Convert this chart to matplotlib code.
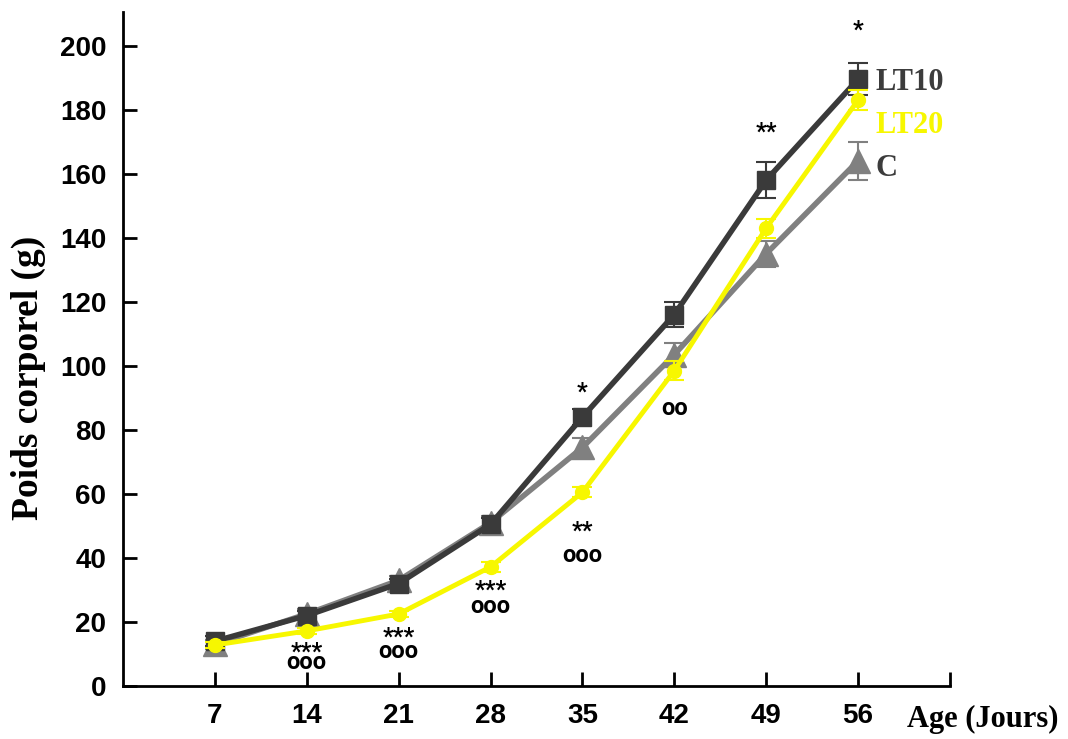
import matplotlib.pyplot as plt
import numpy as np
from matplotlib.font_manager import FontProperties
from matplotlib.textpath import TextPath

# age in days
days = [7, 14, 21, 28, 35, 42, 49, 56]

# body weight (g), mean and error per group
lt10 = [14, 22, 32, 50.5, 84, 116, 158, 189.5]
lt10_err = [1.5, 1.5, 1.5, 2, 2.5, 4, 5.5, 5]
c = [13, 22.5, 33, 51, 74.5, 103.5, 135, 164]
c_err = [1.5, 1.5, 1.5, 2, 3, 3.5, 4, 6]
lt20 = [12.8, 17.2, 22.5, 37.2, 60.5, 98.5, 143, 183]
lt20_err = [1, 1, 1, 1.5, 1.5, 3, 3, 3]

# significance marks: day, stars, stars height, circles, circles height
marks = [
    (35, '*', 93.4, '', None),
    (49, '**', 174.7, '', None),
    (56, '*', 206.6, '', None),
    (14, '***', 12.2, 'ooo', 7.2),
    (21, '***', 16.9, 'ooo', 10.6),
    (28, '***', 31.6, 'ooo', 24.7),
    (35, '**', 49.7, 'ooo', 40.6),
    (42, '', None, 'oo', 86.6),
]

dark = '#3a3a3a'
grey = '#808080'
yellow = '#f7f700'

fig = plt.figure(figsize=(10.68, 7.39), dpi=100)
ax = fig.add_axes([0.1152, 0.0717, 0.7743, 0.9121])

ax.errorbar(days, c, yerr=c_err, color=grey, lw=4, marker='^', ms=17,
            capsize=7, elinewidth=1.5, capthick=1.5, zorder=2)
ax.errorbar(days, lt10, yerr=lt10_err, color=dark, lw=4, marker='s', ms=13,
            capsize=7, elinewidth=1.5, capthick=1.5, zorder=3)
ax.errorbar(days, lt20, yerr=lt20_err, color=yellow, lw=3.5, marker='o', ms=10,
            capsize=7, elinewidth=1.5, capthick=1.5, zorder=4)

ax.set_xlim(0, 63)
ax.set_ylim(0, 210.5)

# star / circle annotations: place glyph centres at the given heights,
# stacking both rows in one text by tuning the line spacing
msize = 17
mfamily = 'Roboto'
fp = FontProperties(family=mfamily, weight='bold')
em = msize * fig.dpi / 72


def glyph_mid(s):
    ext = TextPath((0, 0), s, size=em, prop=fp).get_extents()
    return (ext.y0 + ext.y1) / 2


lp = TextPath((0, 0), 'lp', size=em, prop=fp).get_extents()
px_unit = ax.transData.transform((0, 1))[1] - ax.transData.transform((0, 0))[1]
star_mid = glyph_mid('*')
o_mid = glyph_mid('o')

for d, stars, ys, circles, yo in marks:
    ls = 1.2
    if stars and circles:
        step = (ys - yo) * px_unit - star_mid + o_mid
        ls = (step + lp.y0) / lp.y1
        # baseline alignment follows the last line here
        txt, yb = stars + '\n' + circles, yo - o_mid / px_unit
    elif stars:
        txt, yb = stars, ys - star_mid / px_unit
    else:
        txt, yb = circles, yo - o_mid / px_unit
    ax.text(d, yb, txt, ha='center', va='baseline', linespacing=ls,
            fontsize=msize, fontweight='bold', family=mfamily,
            color='black')

serif = dict(family='Liberation Serif', fontweight='bold')
ax.text(57.3, lt10[-1] - 1, 'LT10', color='#3c3c3c', fontsize=22,
        va='center', ha='left', **serif)
ax.text(57.3, 175, 'LT20', color=yellow, fontsize=22,
        va='center', ha='left', **serif)
ax.text(57.3, 161.5, 'C', color='#3c3c3c', fontsize=22,
        va='center', ha='left', **serif)

ax.set_xticks(days + [63])
ax.set_xticklabels([str(d) for d in days] + [''])
ax.set_yticks(np.arange(0, 201, 20))

for s in ['top', 'right']:
    ax.spines[s].set_visible(False)
for s in ['left', 'bottom']:
    ax.spines[s].set_linewidth(2)

ax.tick_params(direction='in', length=10, width=2, pad=12)
for lab in ax.get_xticklabels() + ax.get_yticklabels():
    lab.set_family('Liberation Sans')
    lab.set_fontweight('bold')
    lab.set_fontsize(20)

fig.text(28 / 1068, 1 - 378 / 739, 'Poids corporel (g)', rotation=90,
         ha='center', va='center', fontsize=27, **serif)
fig.text(0.9915, 0.027, 'Age (Jours)', ha='right', va='center',
         fontsize=22, **serif)

fig.savefig('out.png', dpi=100)
